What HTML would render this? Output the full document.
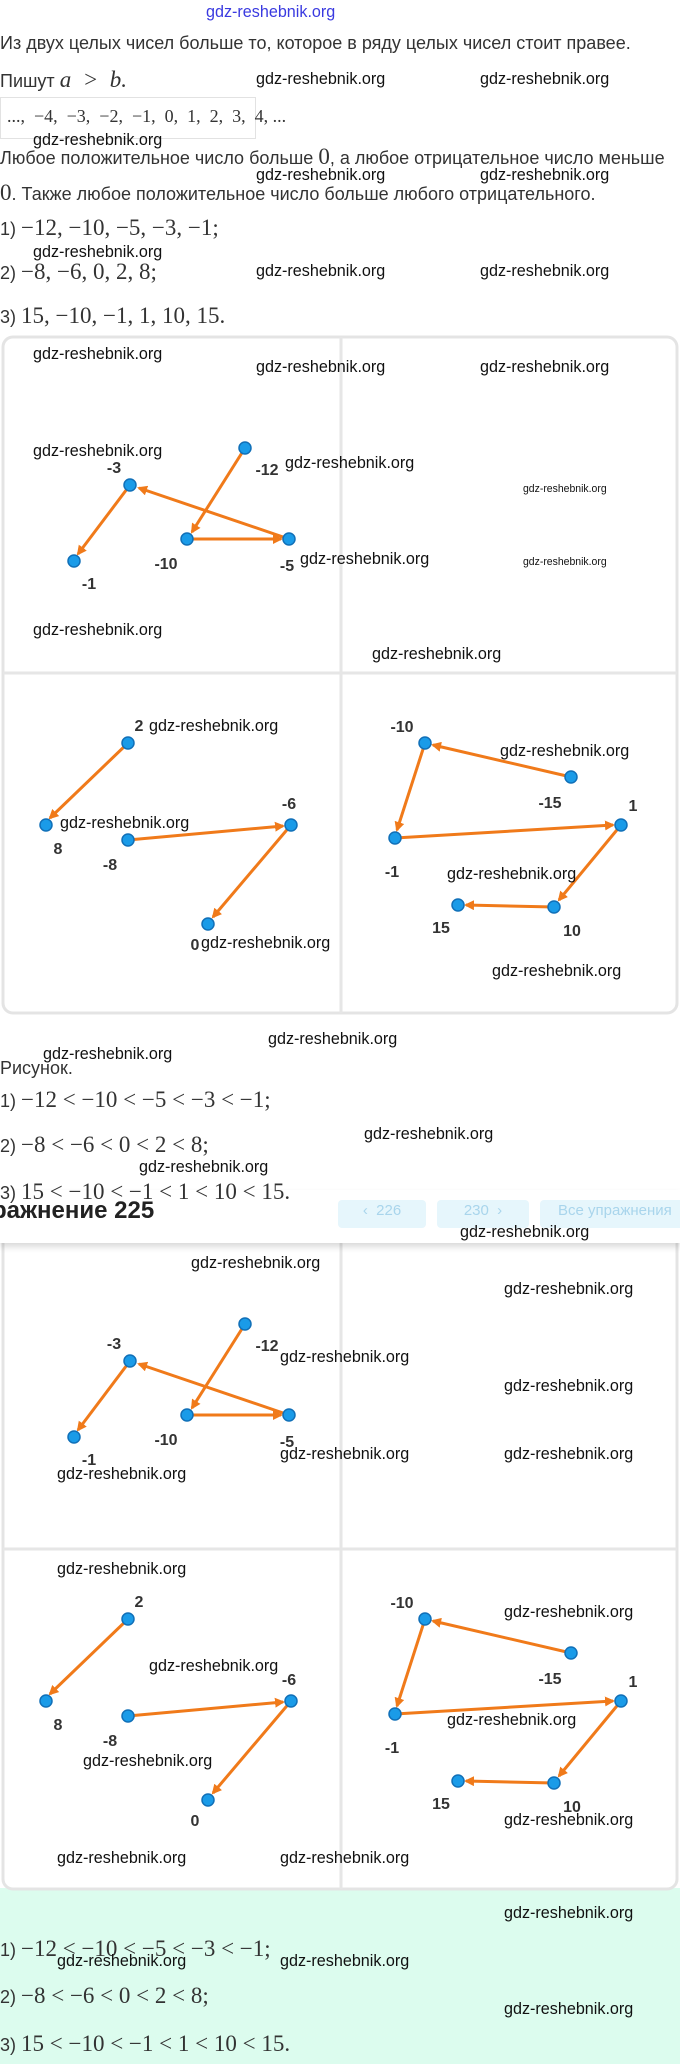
<!DOCTYPE html>
<html><head><meta charset="utf-8">
<style>
body{margin:0;width:680px;height:2064px;position:relative;background:#fff;overflow:hidden;font-family:"Liberation Sans","DejaVu Sans",sans-serif;color:#333}
.t{position:absolute;white-space:nowrap;font-size:18px;line-height:20px}
.m{font-family:"Liberation Serif",serif;font-size:23px}
.w{position:absolute;white-space:nowrap;font-family:"Liberation Sans Narrow","Liberation Sans",sans-serif;font-size:17px;color:#111;line-height:18px;transform:translateY(-9px) scaleX(0.95);transform-origin:left center}
.ws{font-size:11px}
</style></head><body>
<div style="position:absolute;left:0;top:1888px;width:680px;height:176px;background:#dcfcee"></div>

<div class="w" style="left:206px;top:12px;color:#3a3ae0">gdz-reshebnik.org</div>
<div class="t" style="left:0;top:33px">Из двух целых чисел больше то, которое в ряду целых чисел стоит правее.</div>
<div class="t" style="left:0;top:70px">Пишут <span class="m" style="font-style:italic">a &nbsp;&gt;&nbsp; b.</span></div>
<div style="position:absolute;left:0;top:97px;width:254px;height:40px;border:1px solid #e2e2e2"></div>
<div class="t m" style="left:7px;top:106px;font-size:18px">..., &nbsp;−4, &nbsp;−3, &nbsp;−2, &nbsp;−1, &nbsp;0, &nbsp;1, &nbsp;2, &nbsp;3, &nbsp;4, ...</div>
<div class="t" style="left:0;top:147px">Любое положительное число больше <span class="m">0</span>, а любое отрицательное число меньше</div>
<div class="t" style="left:0;top:183px"><span class="m">0</span>. Также любое положительное число больше любого отрицательного.</div>
<div class="t" style="left:0;top:218px">1) <span class="m">−12, −10, −5, −3, −1;</span></div>
<div class="t" style="left:0;top:262px">2) <span class="m">−8, −6, 0, 2, 8;</span></div>
<div class="t" style="left:0;top:306px">3) <span class="m">15, −10, −1, 1, 10, 15.</span></div>

<svg style="position:absolute;left:0;top:0" width="680" height="2064">
<defs>
<marker id="a" markerWidth="10" markerHeight="10" refX="8" refY="5" orient="auto" markerUnits="userSpaceOnUse"><path d="M0,0 L10,5 L0,10 z" fill="#f07a1a"/></marker>
<g id="fig">
<rect x="3" y="337" width="674" height="676" rx="10" fill="#fff" stroke="#e4e4e4" stroke-width="3"/>
<line x1="341" y1="337" x2="341" y2="1013" stroke="#e6e6e6" stroke-width="3"/>
<line x1="3" y1="673" x2="677" y2="673" stroke="#e6e6e6" stroke-width="3"/>
<g stroke="#f07a1a" stroke-width="3" marker-end="url(#a)">
<line x1="245" y1="448" x2="192" y2="532"/>
<line x1="187" y1="539" x2="281" y2="539"/>
<line x1="289" y1="539" x2="139" y2="488"/>
<line x1="130" y1="485" x2="78" y2="554"/>
<line x1="128" y1="743" x2="50" y2="818"/>
<line x1="128" y1="840" x2="283" y2="826"/>
<line x1="291" y1="825" x2="213" y2="917"/>
<line x1="571" y1="777" x2="433" y2="745"/>
<line x1="425" y1="743" x2="397" y2="830"/>
<line x1="395" y1="838" x2="613" y2="825"/>
<line x1="621" y1="825" x2="559" y2="900"/>
<line x1="554" y1="907" x2="466" y2="905"/>
</g>
<g fill="#1a9be8" stroke="#1170b8" stroke-width="1.5">
<circle cx="245" cy="448" r="6"/><circle cx="130" cy="485" r="6"/><circle cx="187" cy="539" r="6"/><circle cx="289" cy="539" r="6"/><circle cx="74" cy="561" r="6"/>
<circle cx="128" cy="743" r="6"/><circle cx="46" cy="825" r="6"/><circle cx="128" cy="840" r="6"/><circle cx="291" cy="825" r="6"/><circle cx="208" cy="924" r="6"/>
<circle cx="425" cy="743" r="6"/><circle cx="571" cy="777" r="6"/><circle cx="395" cy="838" r="6"/><circle cx="621" cy="825" r="6"/><circle cx="554" cy="907" r="6"/><circle cx="458" cy="905" r="6"/>
</g>
<g font-family="Liberation Sans,sans-serif" font-size="16" font-weight="bold" fill="#333" text-anchor="middle">
<text x="267" y="475">-12</text><text x="114" y="473">-3</text><text x="166" y="569">-10</text><text x="287" y="571">-5</text><text x="89" y="589">-1</text>
<text x="139" y="731">2</text><text x="58" y="854">8</text><text x="110" y="870">-8</text><text x="289" y="809">-6</text><text x="195" y="950">0</text>
<text x="402" y="732">-10</text><text x="550" y="808">-15</text><text x="392" y="877">-1</text><text x="633" y="811">1</text><text x="572" y="936">10</text><text x="441" y="933">15</text>
</g>
</g>
</defs>
<use href="#fig"/>
<use href="#fig" transform="translate(0,876)"/>
</svg>

<div style="position:absolute;left:0;top:1190px;width:680px;height:53px;background:#fff;box-shadow:0 4px 6px rgba(0,0,0,0.15)"></div>
<div class="t" style="left:-8px;top:1198px;font-size:24px;font-weight:bold;line-height:26px;color:#222">ражнение 225</div>
<div style="position:absolute;left:338px;top:1200px;width:88px;height:28px;background:#e6f6fc;border-radius:4px;color:#a9d5ec;font-size:15px;text-align:center;line-height:22px">‹ &nbsp;226</div>
<div style="position:absolute;left:437px;top:1200px;width:92px;height:28px;background:#e6f6fc;border-radius:4px;color:#a9d5ec;font-size:15px;text-align:center;line-height:22px">230 &nbsp;›</div>
<div style="position:absolute;left:540px;top:1200px;width:145px;height:28px;background:#e6f6fc;border-radius:4px;color:#a9d5ec;font-size:15px;line-height:22px;padding-left:18px">Все упражнения</div>

<div class="t" style="left:0;top:1058px">Рисунок.</div>
<div class="t" style="left:0;top:1090px">1) <span class="m">−12 &lt; −10 &lt; −5 &lt; −3 &lt; −1;</span></div>
<div class="t" style="left:0;top:1135px">2) <span class="m">−8 &lt; −6 &lt; 0 &lt; 2 &lt; 8;</span></div>
<div class="t" style="left:0;top:1182px">3) <span class="m">15 &lt; −10 &lt; −1 &lt; 1 &lt; 10 &lt; 15.</span></div>

<div class="t" style="left:0;top:1939px">1) <span class="m">−12 &lt; −10 &lt; −5 &lt; −3 &lt; −1;</span></div>
<div class="t" style="left:0;top:1986px">2) <span class="m">−8 &lt; −6 &lt; 0 &lt; 2 &lt; 8;</span></div>
<div class="t" style="left:0;top:2034px">3) <span class="m">15 &lt; −10 &lt; −1 &lt; 1 &lt; 10 &lt; 15.</span></div>

<div class="w" style="left:256px;top:79px">gdz-reshebnik.org</div>
<div class="w" style="left:480px;top:79px">gdz-reshebnik.org</div>
<div class="w" style="left:33px;top:140px">gdz-reshebnik.org</div>
<div class="w" style="left:256px;top:175px">gdz-reshebnik.org</div>
<div class="w" style="left:480px;top:175px">gdz-reshebnik.org</div>
<div class="w" style="left:33px;top:252px">gdz-reshebnik.org</div>
<div class="w" style="left:256px;top:271px">gdz-reshebnik.org</div>
<div class="w" style="left:480px;top:271px">gdz-reshebnik.org</div>
<div class="w" style="left:33px;top:354px">gdz-reshebnik.org</div>
<div class="w" style="left:256px;top:367px">gdz-reshebnik.org</div>
<div class="w" style="left:480px;top:367px">gdz-reshebnik.org</div>
<div class="w" style="left:33px;top:451px">gdz-reshebnik.org</div>
<div class="w" style="left:285px;top:463px">gdz-reshebnik.org</div>
<div class="w ws" style="left:523px;top:489px">gdz-reshebnik.org</div>
<div class="w" style="left:300px;top:559px">gdz-reshebnik.org</div>
<div class="w ws" style="left:523px;top:562px">gdz-reshebnik.org</div>
<div class="w" style="left:33px;top:630px">gdz-reshebnik.org</div>
<div class="w" style="left:372px;top:654px">gdz-reshebnik.org</div>
<div class="w" style="left:149px;top:726px">gdz-reshebnik.org</div>
<div class="w" style="left:500px;top:751px">gdz-reshebnik.org</div>
<div class="w" style="left:60px;top:823px">gdz-reshebnik.org</div>
<div class="w" style="left:447px;top:874px">gdz-reshebnik.org</div>
<div class="w" style="left:201px;top:943px">gdz-reshebnik.org</div>
<div class="w" style="left:492px;top:971px">gdz-reshebnik.org</div>
<div class="w" style="left:268px;top:1039px">gdz-reshebnik.org</div>
<div class="w" style="left:43px;top:1054px">gdz-reshebnik.org</div>
<div class="w" style="left:364px;top:1134px">gdz-reshebnik.org</div>
<div class="w" style="left:139px;top:1167px">gdz-reshebnik.org</div>
<div class="w" style="left:460px;top:1232px">gdz-reshebnik.org</div>
<div class="w" style="left:191px;top:1263px">gdz-reshebnik.org</div>
<div class="w" style="left:504px;top:1289px">gdz-reshebnik.org</div>
<div class="w" style="left:280px;top:1357px">gdz-reshebnik.org</div>
<div class="w" style="left:504px;top:1386px">gdz-reshebnik.org</div>
<div class="w" style="left:504px;top:1454px">gdz-reshebnik.org</div>
<div class="w" style="left:280px;top:1454px">gdz-reshebnik.org</div>
<div class="w" style="left:57px;top:1474px">gdz-reshebnik.org</div>
<div class="w" style="left:57px;top:1569px">gdz-reshebnik.org</div>
<div class="w" style="left:504px;top:1612px">gdz-reshebnik.org</div>
<div class="w" style="left:149px;top:1666px">gdz-reshebnik.org</div>
<div class="w" style="left:447px;top:1720px">gdz-reshebnik.org</div>
<div class="w" style="left:83px;top:1761px">gdz-reshebnik.org</div>
<div class="w" style="left:504px;top:1820px">gdz-reshebnik.org</div>
<div class="w" style="left:57px;top:1858px">gdz-reshebnik.org</div>
<div class="w" style="left:280px;top:1858px">gdz-reshebnik.org</div>
<div class="w" style="left:504px;top:1913px">gdz-reshebnik.org</div>
<div class="w" style="left:57px;top:1961px">gdz-reshebnik.org</div>
<div class="w" style="left:280px;top:1961px">gdz-reshebnik.org</div>
<div class="w" style="left:504px;top:2009px">gdz-reshebnik.org</div>
</body></html>
